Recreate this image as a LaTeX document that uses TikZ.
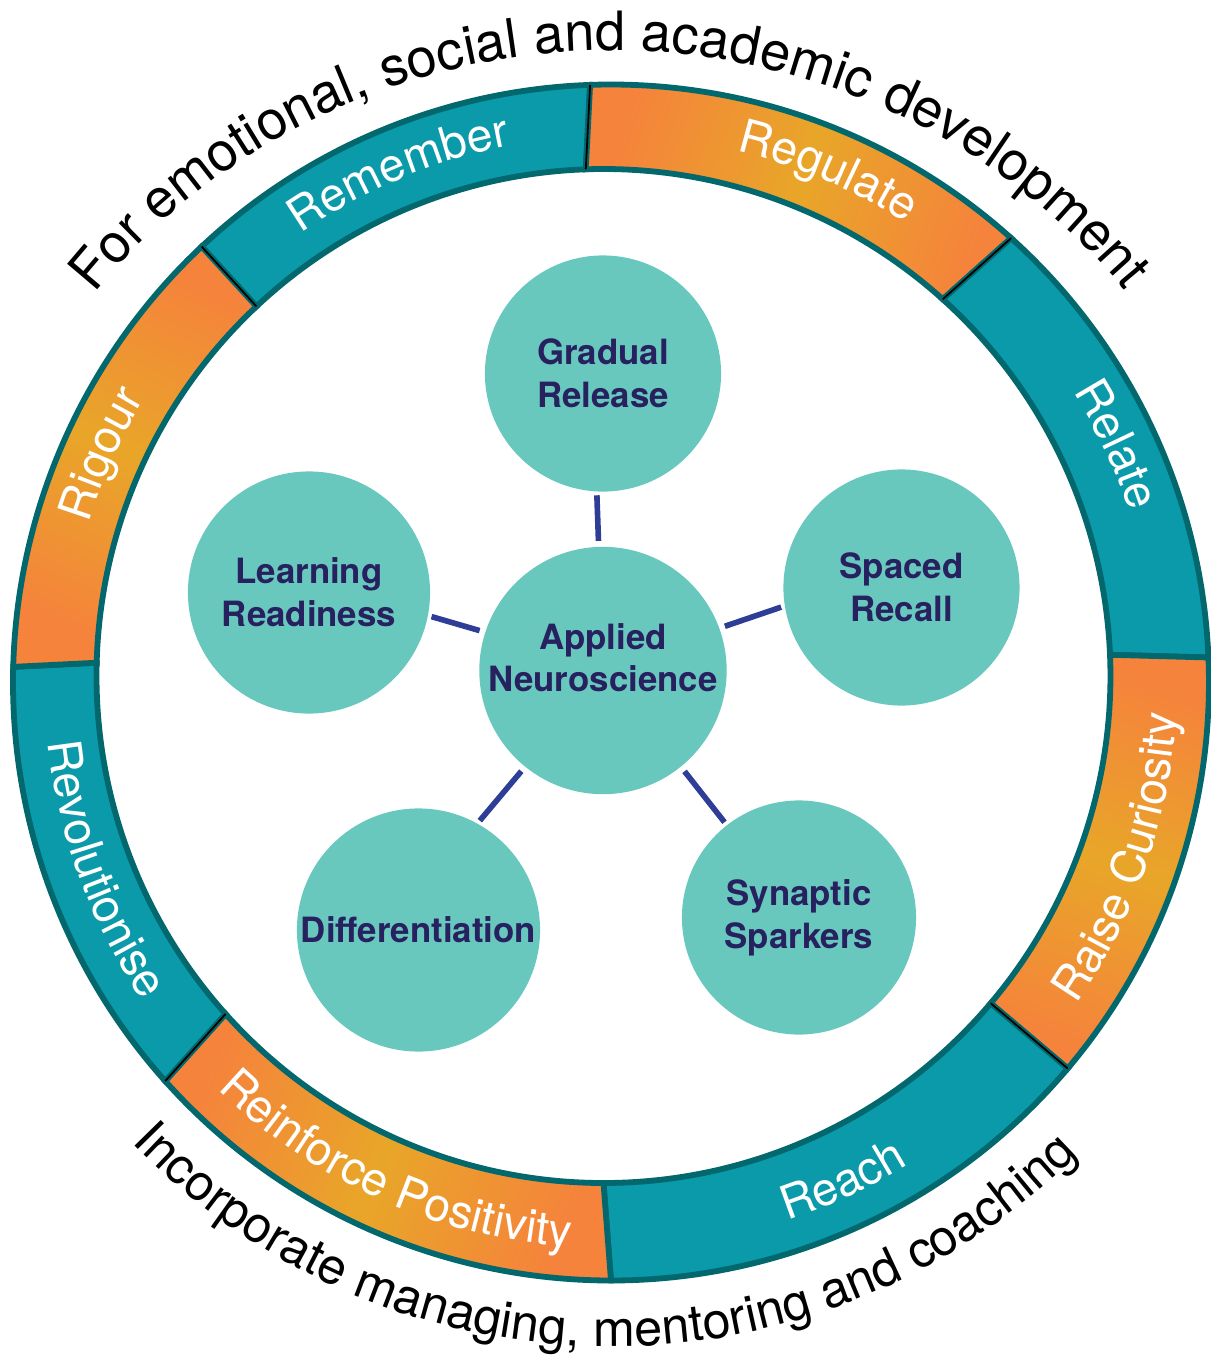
\documentclass[tikz,border=0pt]{standalone}
\usepackage{fontspec}
\setmainfont{TeX Gyre Heros}
\usepackage{xcolor}
\usepackage{tikz}
\usetikzlibrary{positioning, decorations.text}

\definecolor{ringteal}{HTML}{0A9AAA}
\definecolor{ringborder}{HTML}{02686D}
\definecolor{ringorange}{HTML}{F5833C}
\definecolor{ringyellow}{HTML}{E8A628}
\definecolor{ideafill}{HTML}{69C8BE}
\definecolor{ideatext}{HTML}{27215F}
\definecolor{linkblue}{HTML}{2E3D95}

\newcommand{\topfont}{\fontsize{15.4}{18}\selectfont}
\newcommand{\bottomfont}{\fontsize{14.3}{17}\selectfont}
\newcommand{\segfont}{\fontsize{13.2}{16}\selectfont}
\newcommand{\ideafont}{\bfseries\fontsize{9.9}{12.2}\selectfont}

\begin{document}
\begin{tikzpicture}[
        x=0.01cm, y=0.01cm,
        ring_seg/.style={draw=ringborder, line width=1.65pt},
        teal_seg/.style={ring_seg, fill=ringteal},
        orange_seg/.style={ring_seg, top color=ringorange, bottom color=ringorange, middle color=ringyellow, shading angle=#1},
        split_style/.style={black, line width=0.5pt},
        seg_label/.style={decorate, decoration={text along path, text align=center, text color=white, text={|\segfont|#1}}},
        top_text/.style={decorate, decoration={text along path, text align=center, text={|\topfont|#1}}},
        bottom_text/.style={decorate, decoration={text along path, text align=center, text={|\bottomfont|#1}}},
        idea_style/.style={circle, fill=ideafill, text=ideatext, font=\ideafont, align=center, inner sep=0pt},
        link_style/.style={linkblue, line width=1.6pt, shorten <=1.5pt, shorten >=0.9pt}
    ]
        \useasboundingbox (-611,-682.5) rectangle (600,682.5);

        % Coordinates
        \coordinate (ic) at (-7.5,6.5);
        \coordinate (gr) at (-8,309);
        \coordinate (sr) at (290.5,95);
        \coordinate (lr) at (-302,90);
        \coordinate (an) at (-8,12);
        \coordinate (df) at (-192.5,-247.5);
        \coordinate (ss) at (188,-235);

        % Ring segments
        \draw[teal_seg] (133.2:598) arc[start angle=133.2, end angle=92, radius=598] -- ([shift={(ic)}]92:507) arc[start angle=92, end angle=133.2, radius=507] -- cycle;
        \draw[orange_seg=70] (92:598) arc[start angle=92, end angle=48, radius=598] -- ([shift={(ic)}]48:507) arc[start angle=48, end angle=92, radius=507] -- cycle;
        \draw[teal_seg] (48:598) arc[start angle=48, end angle=2.4, radius=598] -- ([shift={(ic)}]2.4:507) arc[start angle=2.4, end angle=48, radius=507] -- cycle;
        \draw[orange_seg=-18.9] (2.4:598) arc[start angle=2.4, end angle=-40.2, radius=598] -- ([shift={(ic)}]-40.2:507) arc[start angle=-40.2, end angle=2.4, radius=507] -- cycle;
        \draw[teal_seg] (-40.2:598) arc[start angle=-40.2, end angle=-90, radius=598] -- ([shift={(ic)}]-90:507) arc[start angle=-90, end angle=-40.2, radius=507] -- cycle;
        \draw[orange_seg=-114.1] (-90:598) arc[start angle=-90, end angle=-138.2, radius=598] -- ([shift={(ic)}]-138.2:507) arc[start angle=-138.2, end angle=-90, radius=507] -- cycle;
        \draw[teal_seg] (-138.2:598) arc[start angle=-138.2, end angle=-181.5, radius=598] -- ([shift={(ic)}]-181.5:507) arc[start angle=-181.5, end angle=-138.2, radius=507] -- cycle;
        \draw[orange_seg=155.85] (178.5:598) arc[start angle=178.5, end angle=133.2, radius=598] -- ([shift={(ic)}]133.2:507) arc[start angle=133.2, end angle=178.5, radius=507] -- cycle;

        % Thin splits
        \draw[split_style] (133.2:598) -- ([shift={(ic)}]133.2:507);
        \draw[split_style] (92:598) -- ([shift={(ic)}]92:507);
        \draw[split_style] (48:598) -- ([shift={(ic)}]48:507);
        \draw[split_style] (-40.2:598) -- ([shift={(ic)}]-40.2:507);
        \draw[split_style] (-138.2:598) -- ([shift={(ic)}]-138.2:507);

        % Segment labels
        \path[seg_label=Remember] (133.2:546) arc[start angle=133.2, end angle=92, radius=546];
        \path[seg_label=Regulate] (89:546) arc[start angle=89, end angle=45, radius=546];
        \path[seg_label=Relate] (48:546) arc[start angle=48, end angle=2.4, radius=546];
        \path[seg_label={Raise Curiosity}] (-40.2:566) arc[start angle=-40.2, end angle=2.4, radius=566];
        \path[seg_label=Reach] (-90:566) arc[start angle=-90, end angle=-40.2, radius=566];
        \path[seg_label={Reinforce Positivity}] (-138.2:566) arc[start angle=-138.2, end angle=-90, radius=566];
        \path[seg_label=Revolutionise] (-181.5:566) arc[start angle=-181.5, end angle=-138.2, radius=566];
        \path[seg_label=Rigour] (178.5:546) arc[start angle=178.5, end angle=133.2, radius=546];

        % Outer texts
        \path[top_text={For emotional, social and academic development}] (150.2:655 and 632) arc[start angle=150.2, end angle=30.2, x radius=655, y radius=632];
        \path[bottom_text={Incorporate managing, mentoring and coaching}] (-150.7:664) arc[start angle=-150.7, end angle=-30.7, radius=664];

        % Nodes
        \node[idea_style, minimum size=2.36cm] (gradual) at (gr) {Gradual\\Release};
        \node[idea_style, minimum size=2.36cm] (spaced) at (sr) {Spaced\\Recall};
        \node[idea_style, minimum size=2.42cm] (learning) at (lr) {Learning\\Readiness};
        \node[idea_style, minimum size=2.47cm, text depth=0.26cm] (applied) at (an) {Applied\\Neuroscience};
        \node[idea_style, minimum size=2.43cm] (diff) at (df) {Differentiation};
        \node[idea_style, minimum size=2.34cm] (synaptic) at (ss) {Synaptic\\Sparkers};

        % Links
        \draw[link_style] (applied.92.8) -- (gradual.267.1);
        \draw[link_style] (applied.20.6) -- (spaced.189.2);
        \draw[link_style] (applied.162.5) -- (learning.349.6);
        \draw[link_style] (applied.231.6) -- (diff.61.7);
        \draw[link_style] (applied.309.5) -- (synaptic.128.1);
    \end{tikzpicture}
\end{document}
